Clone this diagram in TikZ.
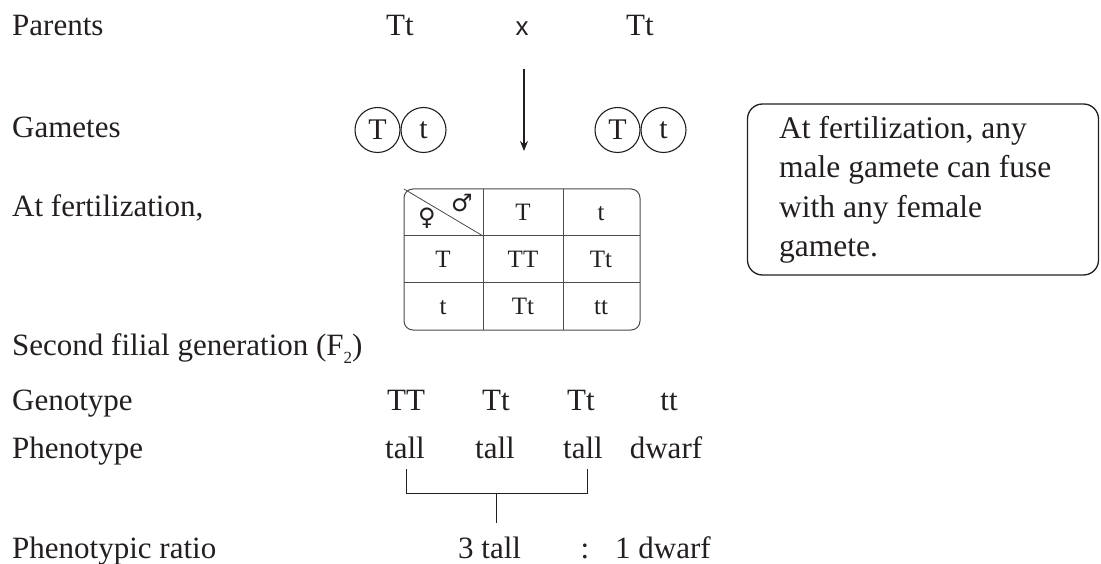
\documentclass[tikz,border=0pt]{standalone}
\usepackage{fontspec}
\setmainfont{Liberation Serif}
\newfontfamily\sansx{Liberation Sans}
\newfontfamily\symf{DejaVu Sans}
\usetikzlibrary{arrows.meta}
\definecolor{ink}{HTML}{231F20}
\definecolor{rule}{HTML}{4A4A4A}
\begin{document}
\begin{tikzpicture}[x=1pt,y=-1pt,
  lbl/.style={anchor=base west,inner sep=0pt,text=ink,font=\fontsize{31}{36}\selectfont},
  txt/.style={anchor=base,inner sep=0pt,text=ink,font=\fontsize{31}{36}\selectfont},
  cell/.style={anchor=base,inner sep=0pt,text=ink,font=\fontsize{25}{28}\selectfont},
  gam/.style={circle,draw=ink,line width=1.1pt,minimum size=45pt,inner sep=0pt,text=ink,font=\fontsize{30}{31}\selectfont},
  tbl/.style={draw=rule,line width=1pt},
  link/.style={draw=ink,line width=1pt}]
\useasboundingbox (0,0) rectangle (1101,564);
% left labels
\node[lbl] (lpar) at (12,36) {Parents};
\node[lbl] (lgam) at (12,138) {Gametes};
\node[lbl] (lfer) at (12,217) {At fertilization,};
\node[lbl] (lsec) at (12,355) {Second filial generation (F\raisebox{-0.28em}{\fontsize{17}{17}\selectfont 2})};
\node[lbl] (lgen) at (12,410) {Genotype};
\node[lbl] (lphe) at (12,458) {Phenotype};
\node[lbl] (lrat) at (12,558) {Phenotypic ratio};
% parents
\node[txt] (p1) at (400,36) {Tt};
\node[txt,font=\sansx\fontsize{26}{30}\selectfont] (cross) at (522,36) {x};
\node[txt] (p2) at (640,36) {Tt};
% arrow
\coordinate (a1) at (524,69);
\coordinate (a2) at (524,151);
\draw[link,line width=1.1pt,-{Stealth[length=10pt,width=8pt]}] (a1) -- (a2);
% gametes
\node[gam] (g1) at (377.5,130) {T};
\node[gam] (g2) at (423.5,130) {t};
\node[gam] (g3) at (617.5,130) {T};
\node[gam] (g4) at (663.5,130) {t};
% Punnett square
\coordinate (tl) at (404,189);
\coordinate (br) at (640,330);
\draw[tbl,rounded corners=9pt] (tl) rectangle (br);
\coordinate (c1t) at (483,189); \coordinate (c1b) at (483,330);
\coordinate (c2t) at (563,189); \coordinate (c2b) at (563,330);
\coordinate (r1l) at (404,236); \coordinate (r1r) at (640,236);
\coordinate (r2l) at (404,283); \coordinate (r2r) at (640,283);
\coordinate (dg) at (483,236);
\draw[tbl] (c1t) -- (c1b);
\draw[tbl] (c2t) -- (c2b);
\draw[tbl] (r1l) -- (r1r);
\draw[tbl] (r2l) -- (r2r);
\draw[tbl,line width=0.8pt] (tl) -- (dg);
\node[inner sep=0pt,text=ink,font=\symf\fontsize{24}{25}\selectfont] (fem) at (427,218) {♀};
\node[inner sep=0pt,text=ink,font=\symf\fontsize{24}{25}\selectfont] (mal) at (462,203) {♂};
\node[cell] (hT) at (523,221) {T};
\node[cell] (ht) at (601,221) {t};
\node[cell] (vT) at (443,268) {T};
\node[cell] (cTT) at (523,268) {TT};
\node[cell] (cTt) at (601,268) {Tt};
\node[cell] (vt) at (443,315) {t};
\node[cell] (ctT) at (523,315) {Tt};
\node[cell] (ctt) at (601,315) {tt};
% callout
\node[draw=ink,line width=1.3pt,rounded corners=15pt,minimum width=351pt,minimum height=171pt,inner sep=0pt] (note) at (923,189.5) {};
\node[lbl,font=\fontsize{31.5}{36}\selectfont] (n1) at (779,139) {At fertilization, any};
\node[lbl,font=\fontsize{31.5}{36}\selectfont] (n2) at (779,178) {male gamete can fuse};
\node[lbl,font=\fontsize{31.5}{36}\selectfont] (n3) at (779,218) {with any female};
\node[lbl,font=\fontsize{31.5}{36}\selectfont] (n4) at (779,257) {gamete.};
% genotype / phenotype
\node[txt] (gTT) at (406,410) {TT};
\node[txt] (gTt1) at (496,410) {Tt};
\node[txt] (gTt2) at (581,410) {Tt};
\node[txt] (gtt) at (669,410) {tt};
\node[txt] (ph1) at (405,458) {tall};
\node[txt] (ph2) at (495,458) {tall};
\node[txt] (ph3) at (583,458) {tall};
\node[txt] (ph4) at (666,458) {dwarf};
% bracket
\coordinate (bl) at (406,469);
\coordinate (bld) at (406,493);
\coordinate (brd) at (587,493);
\coordinate (brt) at (587,469);
\coordinate (bs) at (496,493);
\coordinate (be) at (496,523);
\draw[link] (bl) -- (bld) -- (brd) -- (brt);
\draw[link] (bs) -- (be);
% ratio
\node[lbl] (r3) at (458,558) {3 tall};
\node[txt] (rc) at (585,558) {:};
\node[lbl] (r1) at (615,558) {1 dwarf};
\end{tikzpicture}
\end{document}
